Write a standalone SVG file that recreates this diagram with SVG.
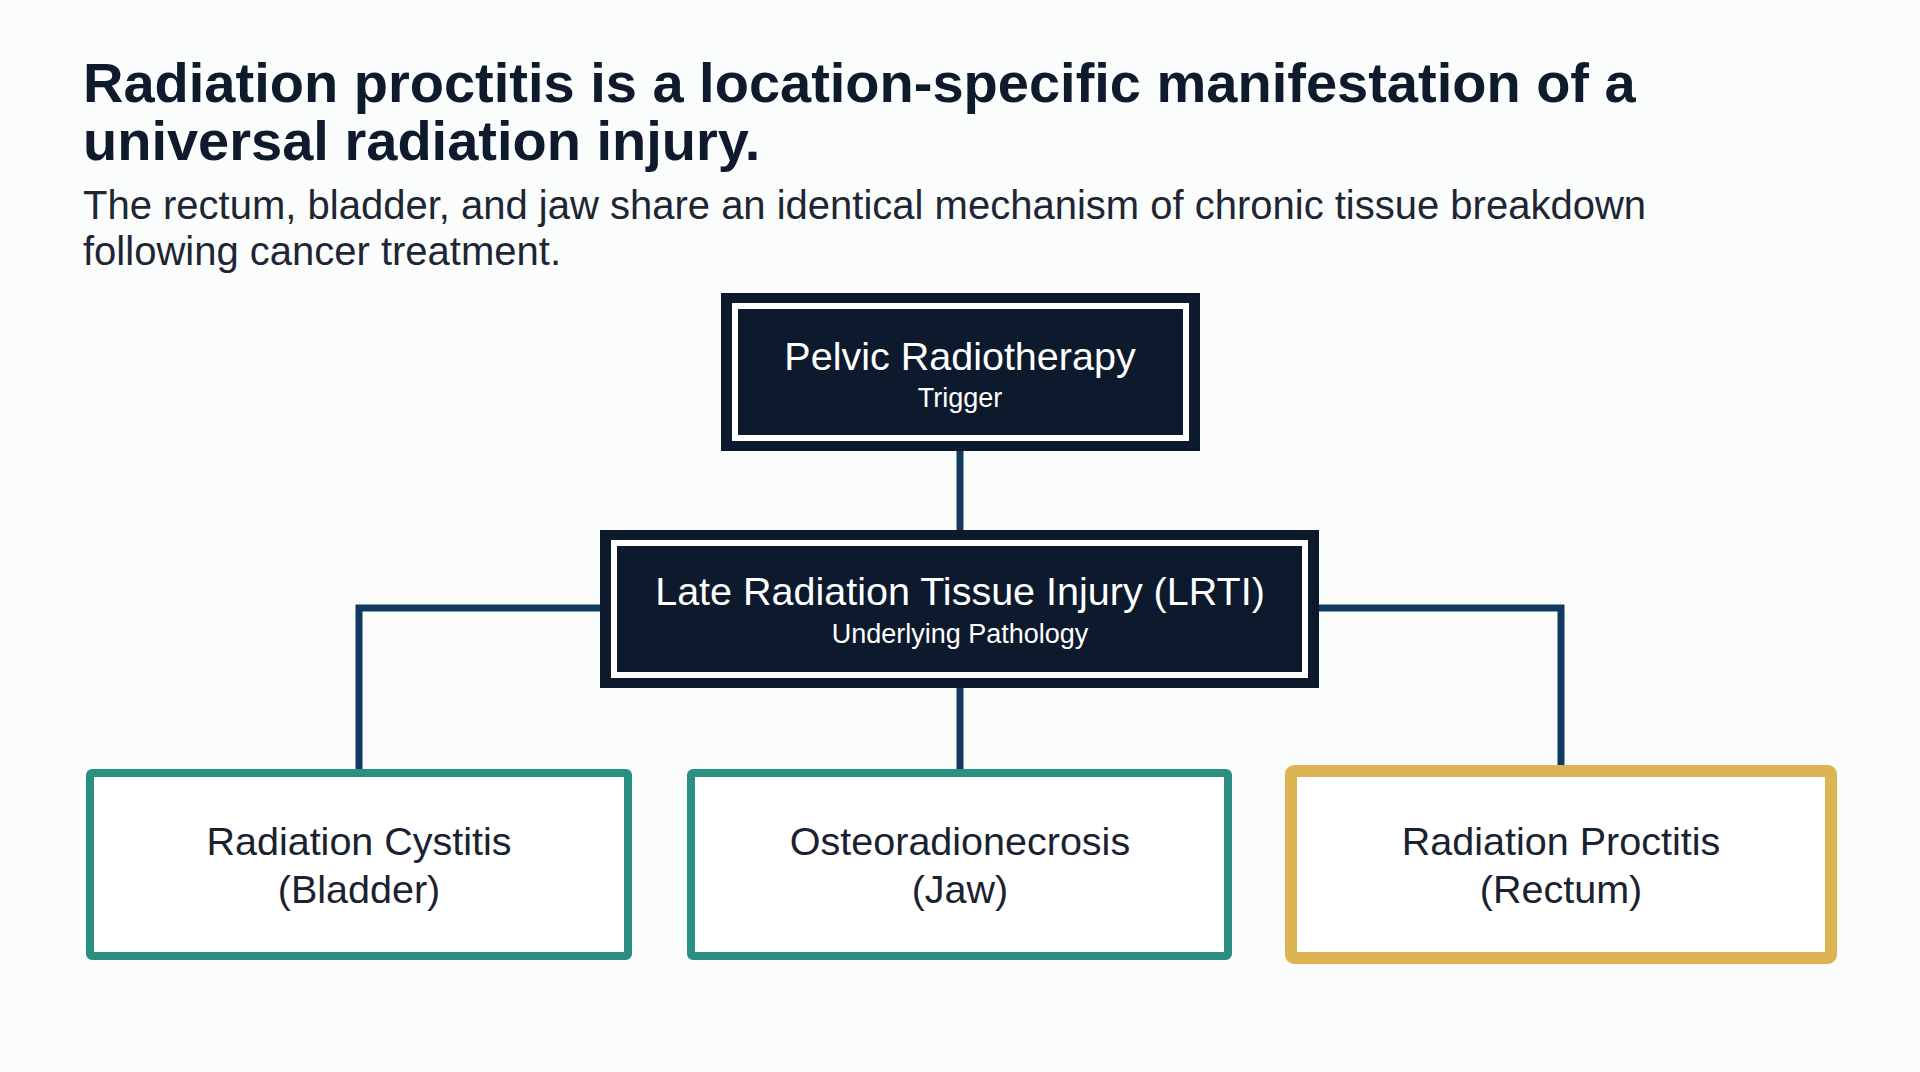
<svg xmlns="http://www.w3.org/2000/svg" width="1920" height="1072" viewBox="0 0 1920 1072">
  <style>
    .title { font-family: "Liberation Sans", Arial, sans-serif; font-weight: bold; font-size: 56px; fill: #0f1b2d; }
    .sub { font-family: "Liberation Sans", Arial, sans-serif; font-size: 40px; fill: #1e2633; }
    .dark { fill: #0d1a2d; }
    .inner { fill: none; stroke: #ffffff; stroke-width: 6; }
    .main { font-family: "Liberation Sans", Arial, sans-serif; font-size: 39.5px; fill: #ffffff; text-anchor: middle; }
    .small { font-family: "Liberation Sans", Arial, sans-serif; font-size: 27px; fill: #ffffff; text-anchor: middle; }
    .leaf { fill: #ffffff; stroke-width: 8; }
    .teal { stroke: #2b9082; }
    .gold { stroke: #dcb454; stroke-width: 12; }
    .ltext { font-family: "Liberation Sans", Arial, sans-serif; font-size: 39.5px; fill: #1a2230; text-anchor: middle; }
    .conn { fill: none; stroke: #113a60; stroke-width: 7; }
  </style>
  <rect x="0" y="0" width="1920" height="1072" fill="#fbfcfc"/>

  <g id="heading">
    <text class="title" x="83" y="102">Radiation proctitis is a location-specific manifestation of a</text>
    <text class="title" x="83" y="160">universal radiation injury.</text>
    <text class="sub" x="83" y="219">The rectum, bladder, and jaw share an identical mechanism of chronic tissue breakdown</text>
    <text class="sub" x="83" y="265">following cancer treatment.</text>
  </g>

  <g id="connectors">
    <line class="conn" x1="960" y1="451" x2="960" y2="530"/>
    <polyline class="conn" points="600,608 359,608 359,769"/>
    <polyline class="conn" points="1319,608 1561,608 1561,765"/>
    <line class="conn" x1="960" y1="688" x2="960" y2="769"/>
  </g>

  <g id="node-pelvic">
    <rect class="dark" x="721" y="293" width="479" height="158"/>
    <rect class="inner" x="735" y="306" width="451" height="132"/>
    <text class="main" x="960" y="370">Pelvic Radiotherapy</text>
    <text class="small" x="960" y="407">Trigger</text>
  </g>

  <g id="node-lrti">
    <rect class="dark" x="600" y="530" width="719" height="158"/>
    <rect class="inner" x="614" y="543" width="691" height="132"/>
    <text class="main" x="960" y="605">Late Radiation Tissue Injury (LRTI)</text>
    <text class="small" x="960" y="643">Underlying Pathology</text>
  </g>

  <g id="node-cystitis">
    <rect class="leaf teal" x="90" y="773" width="538" height="183" rx="2"/>
    <text class="ltext" x="359" y="855">Radiation Cystitis</text>
    <text class="ltext" x="359" y="903">(Bladder)</text>
  </g>

  <g id="node-osteo">
    <rect class="leaf teal" x="691" y="773" width="537" height="183" rx="2"/>
    <text class="ltext" x="960" y="855">Osteoradionecrosis</text>
    <text class="ltext" x="960" y="903">(Jaw)</text>
  </g>

  <g id="node-proctitis">
    <rect class="leaf gold" x="1291" y="771" width="540" height="187" rx="3"/>
    <text class="ltext" x="1561" y="855">Radiation Proctitis</text>
    <text class="ltext" x="1561" y="903">(Rectum)</text>
  </g>
</svg>
